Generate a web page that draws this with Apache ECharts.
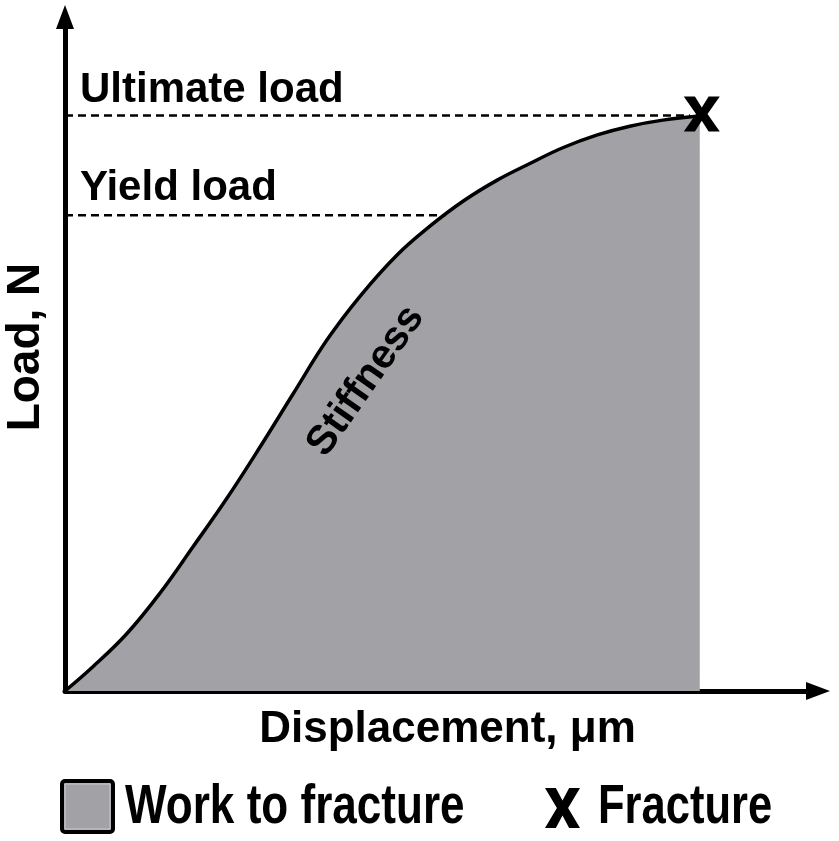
<!DOCTYPE html>
<html>
<head>
<meta charset="utf-8">
<script src="https://cdn.jsdelivr.net/npm/echarts@6/dist/echarts.min.js"></script>
<style>
  html, body { margin: 0; padding: 0; background: #fff; }
  #chart { width: 839px; height: 841px; }
</style>
</head>
<body>
<div id="chart"></div>
<script>
// load-displacement curve (arbitrary units, 0..100)
const displacement = [0, 3.7, 8.2, 12.6, 17.0, 21.5, 25.9, 30.3, 34.8, 39.2, 44.1, 48.5, 52.9, 57.4, 61.8, 66.1, 70.7, 75.0, 79.4, 84.3];
const load = [0, 3.6, 8.5, 14.5, 21.4, 28.6, 36.2, 44.1, 52.1, 58.6, 64.7, 69.0, 72.7, 75.8, 78.3, 80.6, 82.5, 83.8, 84.7, 85.3];

const yieldLoad = 70.6;
const yieldEnd = 50.5;
const ultimateLoad = 85.4;
const ultimateEnd = 83.0;
const fracturePoint = [84.3, 85.3];

const FONT = 'Liberation Sans, Arial, Helvetica, sans-serif';
const GREY = '#a2a1a6';

// bold "X" outline on a 100x100 box
const X_SHAPE = [[0, 0], [31, 0], [50, 31], [69, 0], [100, 0], [66, 50], [100, 100], [69, 100], [50, 69], [31, 100], [0, 100], [34, 50]];
const X_PATH = 'path://M' + X_SHAPE.map(p => p.join(',')).join(' L') + ' Z';

function xPolygon(left, top, w, h) {
  return X_SHAPE.map(p => [left + p[0] * w / 100, top + p[1] * h / 100]);
}

const curve = displacement.map((x, i) => [x, load[i]]);

const chart = echarts.init(document.getElementById('chart'));

const axisLine = {
  onZero: false,
  symbol: ['none', 'triangle'],
  symbolSize: [18, 24],
  lineStyle: { color: '#000', width: 5 }
};

const option = {
  backgroundColor: '#fff',
  animation: false,
  grid: { left: 65, right: 21, top: 17, bottom: 150, outerBoundsMode: 'none' },
  xAxis: {
    type: 'value',
    min: 0,
    max: 100,
    name: 'Displacement, \u03bcm',
    nameLocation: 'middle',
    nameGap: 17,
    nameTextStyle: { fontFamily: FONT, fontWeight: 'bold', fontSize: 44, color: '#000', padding: [0, 0, 0, 12] },
    axisLine: axisLine,
    axisTick: { show: false },
    axisLabel: { show: false },
    splitLine: { show: false }
  },
  yAxis: {
    type: 'value',
    min: 0,
    max: 100,
    name: 'Load, N',
    nameLocation: 'middle',
    nameGap: 16,
    nameTextStyle: { fontFamily: FONT, fontWeight: 'bold', fontSize: 46, color: '#000', padding: [0, 0, 0, 14] },
    axisLine: axisLine,
    axisTick: { show: false },
    axisLabel: { show: false },
    splitLine: { show: false }
  },
  series: [
    {
      name: 'Work to fracture',
      type: 'line',
      data: curve,
      smooth: 0.4,
      symbol: 'none',
      lineStyle: { color: '#000', width: 3.5 },
      areaStyle: { color: GREY, opacity: 1 },
      z: 2
    },
    {
      name: 'Yield load',
      type: 'line',
      data: [[0, yieldLoad], [yieldEnd, yieldLoad]],
      symbol: 'none',
      lineStyle: { color: '#000', width: 2.5, type: [8, 5] },
      z: 3
    },
    {
      name: 'Ultimate load',
      type: 'line',
      data: [[0, ultimateLoad], [ultimateEnd, ultimateLoad]],
      symbol: 'none',
      lineStyle: { color: '#000', width: 2.5, type: [8, 5] },
      z: 3
    },
    {
      name: 'Fracture',
      type: 'scatter',
      data: [fracturePoint],
      symbol: X_PATH,
      symbolSize: [36, 35],
      symbolOffset: [2, -2],
      itemStyle: { color: '#000', opacity: 1 },
      z: 5
    }
  ],
  graphic: [
    {
      type: 'text',
      style: { x: 80, y: 90, text: 'Ultimate load', font: 'bold 42px ' + FONT, fill: '#000', textVerticalAlign: 'middle' }
    },
    {
      type: 'text',
      style: { x: 80, y: 188, text: 'Yield load', font: 'bold 42px ' + FONT, fill: '#000', textVerticalAlign: 'middle' }
    },
    {
      type: 'text',
      x: 366,
      y: 381,
      rotation: 55 * Math.PI / 180,
      style: { x: 0, y: 0, text: 'Stiffness', font: 'bold 41px ' + FONT, fill: '#000', textAlign: 'center', textVerticalAlign: 'middle' },
      z: 10
    },
    // legend
    {
      type: 'rect',
      shape: { x: 62, y: 781, width: 51, height: 51, r: 3 },
      style: { fill: GREY, stroke: '#000', lineWidth: 4 }
    },
    {
      type: 'rect',
      shape: { x: 65, y: 784, width: 45, height: 45 },
      style: { fill: 'none', stroke: '#c9c8cc', lineWidth: 1 }
    },
    {
      type: 'text',
      x: 125,
      y: 808,
      scaleX: 0.787,
      style: { x: 0, y: 0, text: 'Work to fracture', font: 'bold 56px ' + FONT, fill: '#000', textVerticalAlign: 'middle' }
    },
    {
      type: 'polygon',
      shape: { points: xPolygon(545, 788, 35, 40) },
      style: { fill: '#000' }
    },
    {
      type: 'text',
      x: 598,
      y: 808,
      scaleX: 0.777,
      style: { x: 0, y: 0, text: 'Fracture', font: 'bold 56px ' + FONT, fill: '#000', textVerticalAlign: 'middle' }
    }
  ]
};

chart.setOption(option);
</script>
</body>
</html>
